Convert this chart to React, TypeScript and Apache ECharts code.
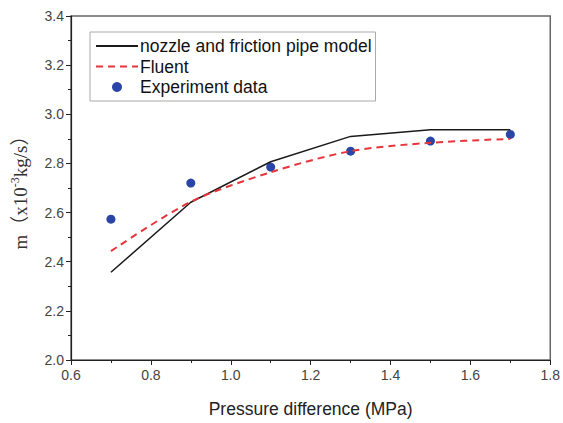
import React, { useEffect, useRef } from "react";
import * as echarts from "echarts";

const pressure = [0.7, 0.9, 1.1, 1.3, 1.5, 1.7];
const modelValues = [2.357, 2.642, 2.807, 2.91, 2.937, 2.937];
const fluentValues = [2.443, 2.644, 2.764, 2.85, 2.884, 2.9];
const experimentValues = [2.573, 2.72, 2.785, 2.85, 2.891, 2.918];
const seriesNames = ["nozzle and friction pipe model", "Fluent", "Experiment data"];

export default function App() {
  const ref = useRef<HTMLDivElement>(null);
  useEffect(() => {
    const chart = echarts.init(ref.current!, null, { renderer: "svg" });
    const pair = (vals: number[]) => pressure.map((p, i) => [p, vals[i]]);
    const labelFont = { fontFamily: "Liberation Sans", fontSize: 14, color: "#444" };
    chart.setOption({
      animation: false,
      backgroundColor: "#fff",
      grid: { left: 71, right: 12, top: 16, bottom: 54, show: true, borderColor: "#666", borderWidth: 1.5 },
      legend: {
        orient: "vertical",
        left: 90,
        top: 32,
        itemWidth: 42,
        itemHeight: 10,
        itemGap: 2.5,
        padding: [5, 4, 5, 5],
        borderColor: "#aaa",
        borderWidth: 1,
        textStyle: { fontFamily: "Liberation Sans", fontSize: 17.5, color: "#111", padding: [0, 0, 0, -3] },
        data: [
          { name: seriesNames[0], itemStyle: { opacity: 0 } },
          { name: seriesNames[1], itemStyle: { opacity: 0 } },
          { name: seriesNames[2], icon: "circle", itemStyle: { opacity: 1 } },
        ],
      },
      xAxis: {
        type: "value",
        min: 0.6,
        max: 1.8,
        interval: 0.2,
        name: "Pressure difference (MPa)",
        nameLocation: "middle",
        nameGap: 40,
        nameTextStyle: { fontFamily: "Liberation Sans", fontSize: 17.5, color: "#222" },
        axisLine: { lineStyle: { color: "#222", width: 1.2 } },
        axisTick: { length: 5, lineStyle: { color: "#222" } },
        minorTick: { show: true, splitNumber: 2, length: 3, lineStyle: { color: "#222" } },
        splitLine: { show: false },
        axisLabel: { ...labelFont, margin: 8, formatter: (v: number) => v.toFixed(1) },
      },
      yAxis: {
        type: "value",
        min: 2.0,
        max: 3.4,
        interval: 0.2,
        name: "m（x10{sup|-3}kg/s）",
        nameLocation: "middle",
        nameGap: 40,
        nameTextStyle: {
          fontFamily: "Liberation Serif, Noto Sans CJK SC",
          fontSize: 19,
          color: "#333",
          rich: { sup: { fontFamily: "Liberation Serif", fontSize: 12, color: "#333", verticalAlign: "top", padding: [0, 0, 10, 0] } },
        },
        axisLine: { show: true, lineStyle: { color: "#222", width: 1.2 } },
        axisTick: { show: true, length: 5, lineStyle: { color: "#222" } },
        minorTick: { show: true, splitNumber: 2, length: 3, lineStyle: { color: "#222" } },
        splitLine: { show: false },
        axisLabel: { ...labelFont, margin: 7, formatter: (v: number) => v.toFixed(1) },
      },
      series: [
        {
          name: seriesNames[0],
          type: "line",
          data: pair(modelValues),
          symbol: "none",
          lineStyle: { color: "#1a1a1a", width: 1.5 },
          itemStyle: { color: "#1a1a1a" },
        },
        {
          name: seriesNames[1],
          type: "line",
          data: pair(fluentValues),
          symbol: "none",
          smooth: 0.3,
          lineStyle: { color: "#e8353b", width: 2, type: [7, 5] },
          itemStyle: { color: "#e8353b" },
        },
        {
          name: seriesNames[2],
          type: "scatter",
          data: pair(experimentValues),
          symbol: "circle",
          symbolSize: 9,
          itemStyle: { color: "#2a44a8", opacity: 1 },
        },
      ],
    });
    return () => chart.dispose();
  }, []);
  return <div ref={ref} style={{ position: "fixed", left: 0, top: 0, width: 563, height: 423 }} />;
}
